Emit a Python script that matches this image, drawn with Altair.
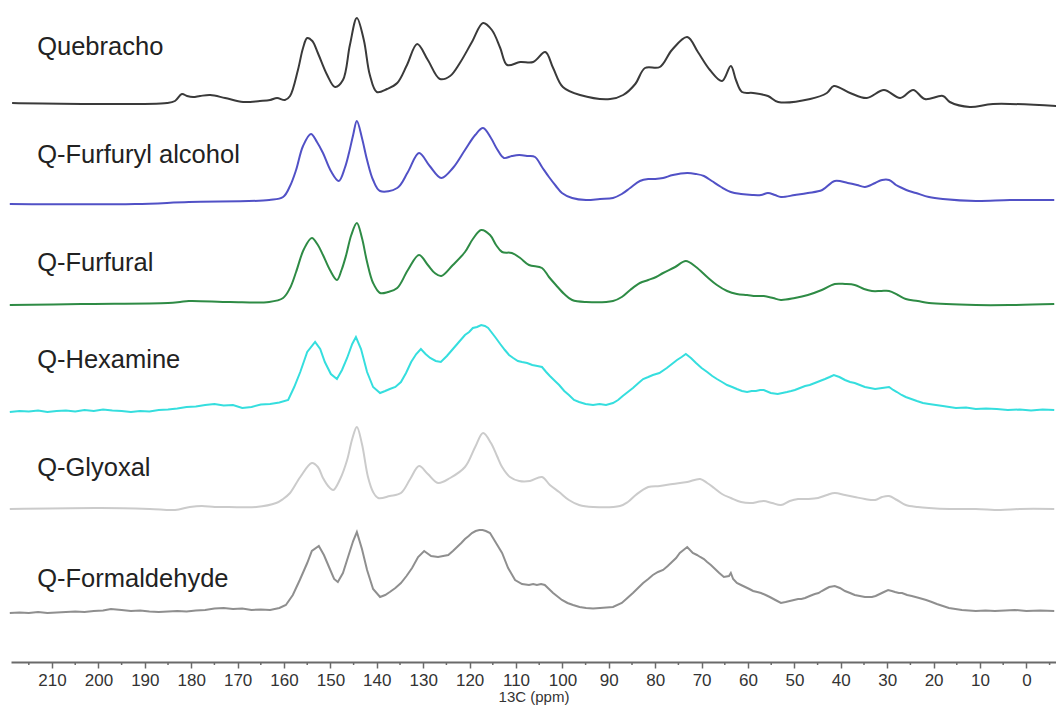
import altair as alt
import pandas as pd

# Stacked solid-state 13C NMR spectra of quebracho tannin and its resins.
samples = ["Quebracho", "Q-Furfuryl alcohol", "Q-Furfural",
           "Q-Hexamine", "Q-Glyoxal", "Q-Formaldehyde"]
colors = ["#3a3a3a", "#5151c6", "#2e8b45", "#35dede", "#cbcbcb", "#8f8f8f"]
# vertical offset of each trace (stacking), in intensity units
offsets = [559, 458, 357, 250, 153, 49]
# height of each name above its trace's baseline
label_lift = [48, 41, 34, 44, 33, 26]
smooth = [True, True, True, False, True, False]

# (ppm, intensity) pairs
quebracho = [
    (218.6, 0), (185.2, 0), (183.5, 2), (182.0, 9), (180.9, 7), (179.6, 6),
    (178.1, 7), (175.9, 8), (172.7, 5), (168.8, 1), (165.2, 2), (163.0, 3),
    (161.5, 5), (159.8, 3), (158.7, 7), (157.0, 33), (155.9, 55), (155.0, 65),
    (153.9, 62), (152.7, 50), (150.7, 28), (149.0, 16), (147.3, 23), (145.8, 58),
    (144.3, 85), (142.8, 63), (141.5, 28), (140.0, 11), (137.8, 14), (135.6, 20),
    (133.5, 38), (131.3, 59), (129.0, 43), (126.4, 24), (124.2, 27), (122.1, 40),
    (119.5, 61), (117.1, 80), (115.2, 73), (113.4, 55), (111.9, 38), (109.1, 41),
    (106.3, 41), (103.7, 51), (102.0, 35), (99.9, 16), (96.2, 8), (89.7, 4),
    (86.9, 8), (84.3, 19), (82.2, 35), (79.0, 36), (76.4, 53), (73.1, 66),
    (70.8, 51), (68.2, 33), (65.6, 22), (63.7, 37), (62.6, 23), (61.3, 11),
    (58.9, 10), (55.7, 7), (53.5, 1), (46.6, 4), (43.0, 10), (41.5, 17),
    (38.0, 10), (34.4, 5), (30.7, 13), (27.2, 5), (24.4, 13), (21.9, 4),
    (18.0, 7), (16.5, 1), (12.2, -4), (7.2, -1), (-6.4, -3),
]

furfuryl_alcohol = [
    (219.1, 0), (192.1, 0), (180.5, 2), (163.2, 4), (160.2, 7), (158.7, 18),
    (157.4, 34), (155.9, 58), (154.2, 70), (152.9, 62), (151.6, 51), (149.9, 33),
    (148.2, 23), (146.9, 36), (146.0, 51), (145.1, 69), (144.3, 83), (143.2, 66),
    (142.1, 44), (140.8, 24), (139.3, 13), (135.6, 16), (133.3, 32), (130.9, 51),
    (128.6, 38), (126.1, 26), (123.6, 36), (121.0, 54), (118.8, 69), (117.1, 76),
    (115.4, 66), (114.1, 55), (112.6, 46), (110.9, 48), (109.3, 49), (107.4, 48),
    (105.9, 47), (104.4, 37), (102.9, 27), (101.4, 18), (100.1, 11), (97.9, 6),
    (94.9, 4), (91.9, 5), (89.1, 6), (87.2, 10), (85.4, 16), (83.3, 23),
    (81.5, 25), (80.0, 25), (78.3, 26), (76.2, 29), (73.1, 31), (71.2, 30),
    (69.5, 28), (67.8, 23), (65.8, 17), (63.7, 12), (61.5, 10), (59.1, 9),
    (57.2, 9), (55.7, 11), (54.2, 9), (52.9, 7), (49.9, 9), (47.1, 11),
    (44.0, 14), (41.3, 23), (38.5, 21), (36.5, 19), (34.8, 17), (32.6, 21),
    (31.1, 24), (29.6, 24), (28.1, 19), (26.8, 16), (25.3, 13), (23.8, 11),
    (21.0, 7), (18.0, 5), (10.9, 3), (3.5, 4), (-6.0, 4),
]

furfural = [
    (219.1, 0), (203.7, 1), (185.0, 2), (182.4, 3), (180.5, 4), (171.6, 3),
    (163.2, 3), (160.2, 7), (158.7, 17), (157.4, 33), (155.7, 56), (154.0, 67),
    (152.7, 60), (151.6, 50), (150.1, 35), (148.6, 25), (147.6, 35), (146.6, 50),
    (145.5, 70), (144.3, 82), (143.2, 67), (142.1, 43), (140.8, 22), (139.3, 12),
    (137.6, 13), (135.6, 17), (133.3, 35), (130.9, 50), (129.0, 40), (127.5, 32),
    (126.1, 29), (123.6, 40), (121.0, 53), (119.3, 66), (117.5, 75), (115.6, 70),
    (114.3, 60), (113.0, 53), (110.9, 52), (109.1, 47), (107.2, 40), (104.4, 37),
    (102.9, 28), (101.4, 20), (99.6, 11), (97.9, 5), (94.9, 3), (89.1, 4),
    (87.2, 8), (85.4, 15), (83.3, 22), (81.5, 25), (79.8, 28), (78.3, 32),
    (75.7, 38), (73.4, 44), (71.2, 38), (68.8, 28), (66.7, 20), (64.5, 14),
    (62.4, 11), (60.2, 10), (58.3, 9), (56.6, 9), (54.6, 7), (52.9, 5),
    (49.9, 7), (47.1, 10), (44.1, 15), (41.3, 21), (39.1, 21), (37.0, 20),
    (35.0, 16), (33.3, 14), (31.3, 14), (29.6, 14), (27.7, 10), (26.0, 6),
    (23.4, 4), (21.0, 2), (10.9, 0), (3.5, 0), (-6.0, 1),
]

hexamine = [
    (219.1, 0), (217.0, 1), (215.0, 0.5), (213.0, 1.5), (211.0, 0), (209.0, 1),
    (207.0, 1.5), (205.0, 0.5), (203.0, 2), (201.0, 1), (199.0, 2.5), (197.0, 1.5),
    (195.0, 1), (193.0, 0), (191.0, 1), (189.0, 0.5), (187.0, 2), (185.0, 2.5),
    (183.0, 3.5), (181.0, 5), (179.0, 5.5), (177.0, 7), (175.0, 8), (173.0, 6.5),
    (171.0, 7), (169.0, 4), (167.0, 5), (165.0, 7.5), (163.0, 8), (161.0, 9.5),
    (159.1, 12), (157.8, 25), (156.5, 40), (155.0, 60), (153.3, 70), (152.2, 63),
    (151.2, 50), (149.9, 38), (148.6, 33), (147.5, 42), (146.4, 54), (145.3, 68),
    (144.5, 75), (143.4, 63), (142.1, 40), (140.8, 25), (139.3, 19), (138.2, 21),
    (137.2, 23), (136.0, 25), (134.8, 30), (133.7, 39), (132.6, 50), (131.5, 58),
    (130.5, 63), (129.5, 58), (128.5, 54), (127.3, 51), (126.2, 50), (124.9, 56),
    (123.6, 63), (122.3, 70), (121.0, 77), (120.1, 80), (119.3, 84), (118.4, 85),
    (117.5, 87), (116.7, 86), (116.0, 84), (114.5, 75), (113.4, 68), (112.4, 62),
    (111.5, 57), (110.6, 54), (109.6, 51), (108.7, 50), (107.6, 49), (106.5, 47),
    (105.4, 46), (104.4, 45), (103.5, 40), (102.7, 36), (101.6, 31), (100.7, 27),
    (99.6, 21), (98.6, 17), (97.5, 12), (96.4, 10), (95.0, 8), (93.4, 7),
    (92.0, 8), (90.6, 7), (89.1, 9), (88.0, 12), (87.0, 16), (85.9, 20),
    (84.8, 24), (83.6, 29), (82.6, 33), (81.5, 35), (80.5, 37), (79.1, 39),
    (77.5, 44), (76.4, 48), (75.3, 52), (74.3, 55), (73.4, 58), (72.3, 54),
    (71.2, 49), (70.0, 44), (68.8, 40), (67.7, 36), (66.7, 33), (65.6, 30),
    (64.5, 27), (63.4, 25), (62.4, 23), (61.3, 21), (60.2, 20), (59.2, 21),
    (58.3, 21), (57.4, 22), (56.6, 22), (55.1, 19), (53.6, 18), (52.6, 19),
    (51.6, 20), (50.7, 21), (49.9, 22), (48.8, 24), (47.7, 26), (46.7, 27),
    (45.6, 29), (44.5, 31), (43.4, 33), (42.4, 35), (41.5, 37), (40.3, 35),
    (39.1, 32), (38.0, 30), (37.0, 29), (35.9, 27), (34.8, 25), (33.7, 24),
    (32.6, 23), (31.1, 24), (29.6, 25), (28.7, 22), (27.9, 20), (26.9, 17),
    (26.0, 15), (24.8, 13), (23.6, 11), (22.3, 9), (21.0, 8), (19.5, 7),
    (18.0, 6), (16.6, 5), (15.2, 4), (13.0, 4.5), (10.9, 3), (8.7, 3.5),
    (6.4, 3), (4.0, 2), (1.4, 2.5), (-1.0, 1.5), (-3.5, 2.5), (-6.0, 2),
]

glyoxal = [
    (219.1, 0), (199.5, 1), (188.9, 0), (183.5, -1), (180.3, 2), (177.7, 3),
    (174.9, 2), (171.9, 2), (166.0, 2), (161.7, 6), (160.2, 10), (158.7, 16),
    (156.5, 32), (154.0, 46), (152.7, 42), (151.6, 31), (150.5, 23), (149.4, 19),
    (147.9, 30), (146.4, 49), (145.3, 70), (144.3, 82), (143.2, 65), (141.9, 32),
    (140.8, 17), (139.7, 11), (137.2, 13), (134.8, 16), (132.8, 30), (130.9, 43),
    (129.0, 35), (126.8, 26), (124.2, 31), (121.0, 42), (118.8, 62), (117.1, 76),
    (115.4, 66), (114.1, 53), (113.0, 42), (111.3, 32), (109.3, 28), (107.0, 28),
    (104.4, 32), (102.7, 24), (100.7, 17), (98.6, 9), (96.4, 4), (93.4, 2),
    (87.6, 3), (85.9, 7), (84.2, 14), (81.5, 22), (79.0, 23), (76.2, 25),
    (73.1, 27), (70.3, 30), (68.8, 26), (67.3, 21), (65.6, 15), (63.7, 11),
    (61.5, 7), (59.3, 6), (58.0, 7), (56.6, 8), (54.8, 6), (52.9, 4),
    (51.0, 8), (49.2, 10), (47.1, 10), (44.9, 11), (43.0, 14), (41.3, 16),
    (39.1, 14), (37.0, 12), (34.8, 10), (32.6, 9), (31.1, 12), (29.6, 13),
    (27.9, 9), (26.0, 4), (23.4, 2), (21.0, 1), (16.5, 0), (10.9, 0),
    (5.6, -1), (1.4, 0), (-6.0, 0),
]

formaldehyde = [
    (219.1, 0), (217.0, 0.5), (215.0, 0), (213.0, 1), (211.0, 0), (209.0, 0.5),
    (207.0, 1), (205.0, 1.5), (203.0, 1), (201.0, 2), (199.0, 2.5), (197.3, 4),
    (195.0, 3), (193.0, 2), (191.0, 2.5), (189.0, 1.5), (187.0, 1), (185.0, 1.5),
    (183.0, 2), (181.0, 1.5), (179.0, 2.5), (177.0, 3), (175.0, 4.5), (173.0, 5),
    (171.0, 4), (169.0, 4.5), (167.0, 3), (165.0, 3.5), (163.0, 3), (161.0, 5),
    (159.6, 8), (158.1, 18), (156.6, 33), (155.0, 50), (154.0, 62), (152.5, 67),
    (151.4, 58), (150.3, 46), (149.2, 34), (148.4, 31), (147.3, 40), (146.2, 56),
    (145.1, 72), (144.3, 81), (143.2, 64), (142.1, 43), (140.8, 24), (139.3, 16),
    (138.2, 18), (137.2, 21), (136.0, 25), (134.8, 30), (133.6, 37), (132.4, 45),
    (131.1, 56), (129.8, 62), (128.3, 57), (126.8, 56), (125.7, 57), (124.6, 58),
    (123.6, 62), (122.7, 66), (121.8, 70), (121.0, 74), (120.2, 77), (119.5, 80),
    (118.7, 82), (117.9, 83), (117.2, 83), (116.5, 82), (115.6, 80), (114.3, 70),
    (113.0, 60), (111.7, 45), (110.2, 33), (108.7, 29), (107.2, 28), (106.3, 29),
    (105.5, 28), (104.6, 29), (103.8, 28), (102.0, 20), (100.1, 13), (98.9, 10),
    (97.7, 8), (96.3, 6), (94.9, 5), (93.4, 4.5), (91.9, 5), (90.5, 5.5),
    (89.1, 6), (87.2, 10), (86.0, 15), (84.8, 20), (83.7, 25), (82.6, 30),
    (81.5, 34), (80.5, 38), (79.4, 41), (78.3, 43), (77.3, 47), (76.4, 51),
    (75.5, 55), (74.7, 60), (73.9, 63), (73.1, 66), (71.9, 60), (71.0, 58),
    (70.3, 56), (69.5, 54), (68.8, 51), (68.0, 48), (67.1, 44), (66.2, 40),
    (65.2, 36), (64.1, 37), (63.7, 40), (63.2, 34), (62.4, 30), (61.5, 28),
    (60.6, 26), (59.7, 24), (58.9, 22), (58.0, 21), (57.2, 20), (56.2, 18),
    (55.3, 16), (54.1, 13), (52.9, 10), (51.9, 11), (51.0, 12), (50.1, 13),
    (49.2, 14), (48.5, 14), (47.7, 15), (46.7, 17), (45.6, 19), (44.8, 20),
    (44.1, 22), (43.3, 24), (42.5, 26), (41.3, 27), (40.2, 25), (39.1, 22),
    (38.0, 20), (37.0, 18), (35.9, 17), (34.8, 16), (33.3, 16), (32.5, 17),
    (31.6, 19), (30.7, 21), (29.8, 23), (29.0, 22), (28.3, 21), (27.5, 20),
    (26.8, 20), (25.7, 18), (24.7, 17), (23.1, 15), (21.6, 13), (20.4, 11),
    (19.3, 9), (18.0, 7), (16.7, 5), (15.3, 4), (13.9, 3), (12.4, 2.5),
    (10.9, 2), (8.8, 2.5), (6.8, 2), (4.6, 2.5), (2.5, 3), (0.0, 2),
    (-3.0, 2.5), (-6.0, 2),
]

spectra = [quebracho, furfuryl_alcohol, furfural, hexamine, glyoxal, formaldehyde]

major_ticks = list(range(0, 220, 10))
minor_ticks = list(range(-5, 220, 10))
label_ppm = 213.2
FONT = "Liberation Sans"
AXIS_GREY = "#6a6a6a"

x_scale = alt.Scale(domain=[-6.38, 218.84], reverse=True, nice=False, zero=False)
y_scale = alt.Scale(domain=[0, 662], nice=False, zero=False)

x_axis = alt.Axis(
    values=major_ticks,
    format="d",
    labelOverlap=False,
    title="13C (ppm)",
    grid=False,
    domainColor=AXIS_GREY,
    domainWidth=2,
    tickColor=AXIS_GREY,
    tickWidth=1.5,
    tickSize=6,
    labelFont=FONT,
    labelFontSize=17,
    labelColor="#333333",
    labelPadding=4,
    labelFlush=False,
    titleFont=FONT,
    titleFontSize=15,
    titleFontWeight="normal",
    titleColor="#333333",
    titlePadding=1,
)

layers = []
for name, color, off, pts, sm in zip(samples, colors, offsets, spectra, smooth):
    df = pd.DataFrame(pts, columns=["ppm", "intensity"])
    df["value"] = df["intensity"] + off
    df["sample"] = name
    line = alt.Chart(df).mark_line(
        color=color,
        strokeWidth=2,
        interpolate="catmull-rom" if sm else "linear",
    ).encode(
        x=alt.X("ppm:Q", scale=x_scale, axis=x_axis),
        y=alt.Y("value:Q", scale=y_scale, axis=None),
        order="ppm:Q",
    )
    layers.append(line)

# short minor ticks halfway between the labelled ones
minor = alt.Chart(pd.DataFrame({"ppm": minor_ticks})).mark_rule(
    color=AXIS_GREY, strokeWidth=1.5
).encode(
    x=alt.X("ppm:Q", scale=x_scale),
    y=alt.value(662),
    y2=alt.value(665),
)

labels_df = pd.DataFrame({
    "sample": samples,
    "ppm": [label_ppm] * len(samples),
    "value": [o + l for o, l in zip(offsets, label_lift)],
})
labels = alt.Chart(labels_df).mark_text(
    align="left", baseline="alphabetic", font=FONT, fontSize=25.5, color="#222222"
).encode(
    x=alt.X("ppm:Q", scale=x_scale),
    y=alt.Y("value:Q", scale=y_scale),
    text="sample:N",
)

chart = alt.layer(*layers, minor, labels).properties(
    width=1045,
    height=662,
    padding={"left": 11, "top": 0, "right": 0, "bottom": 49},
    autosize="none",
    background="white",
).configure_view(stroke=None)

chart.save("out.html", embed_options={"renderer": "svg", "actions": False})
